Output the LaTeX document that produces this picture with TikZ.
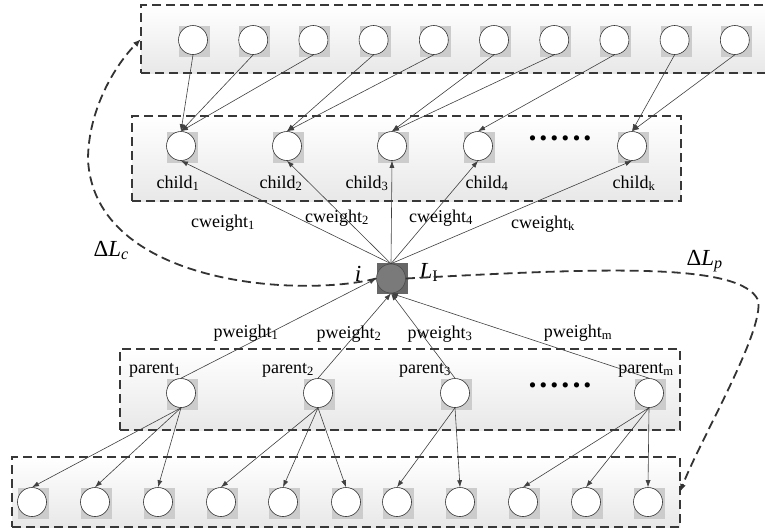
\documentclass[tikz,border=0pt]{standalone}
\usepackage{fontspec}
\setmainfont{Liberation Serif}
\usetikzlibrary{arrows.meta}

\tikzset{
  cell/.style={circle, draw=black!80, fill=white, minimum size=29pt, inner sep=0pt, line width=0.6pt},
  cellbg/.style={fill=gray!40, minimum size=31pt, inner sep=0pt},
  layer/.style={draw=black!78, line width=1.6pt, dash pattern=on 9pt off 5pt,
                top color=white, bottom color=gray!18, inner sep=0pt, outer sep=0pt},
  link/.style={draw=black!75, line width=0.6pt, -{Latex[length=7pt,width=5pt]}},
  jump/.style={draw=black!80, line width=1.8pt, dash pattern=on 9pt off 5pt, -{Latex[length=8pt,width=6pt]}},
  wlabel/.style={anchor=base, font=\fontsize{18}{20}\selectfont},
  big/.style={font=\fontsize{23}{26}\selectfont\itshape},
  dots/.style={font=\bfseries\fontsize{32}{32}\selectfont},
}
% a unit: gray square behind a white circle
\newcommand\cellat[3]{\node[cellbg] at (#2+1.5,#3+1.5) {};
  \node[cell] (#1) at (#2,#3) {};}

\begin{document}
\begin{tikzpicture}[x=1pt, y=-1pt]
  \useasboundingbox (0,0) rectangle (765,531);
  \clip (0,0) rectangle (765,531);

  % layers
  \node[layer, minimum width=634pt, minimum height=68pt] (toplayer) at (458,39) {};
  \node[layer, minimum width=549pt, minimum height=85pt] (childlayer) at (406.5,158.5) {};
  \node[layer, minimum width=560pt, minimum height=81pt] (parentlayer) at (400,389.5) {};
  \node[layer, minimum width=668pt, minimum height=70pt] (bottomlayer) at (346,492) {};

  % top row
  \foreach \n [evaluate=\n as \x using {193+60.2*(\n-1)}] in {1,...,10}
    {\cellat{t\n}{\x}{40}}

  % children
  \foreach \n/\x in {1/181,2/287,3/392,4/478,k/632}
    {\cellat{c\n}{\x}{146}}
  \foreach \n/\x in {1/178,2/281,3/367,4/487,k/634}
    \node[wlabel] at (\x,188) {child\textsubscript{\n}};
  \node[dots] at (560,138) {.\kern3pt.\kern3pt.\kern3pt.\kern3pt.\kern3pt.};

  % node i
  \node[fill=black!60, minimum size=31pt, inner sep=0pt] at (392.5,278) {};
  \node[cell, fill=black!52, draw=black!70] (i) at (391,278.5) {};
  \node[big, anchor=base] at (358,281) {i};
  \node[big, anchor=base west] at (416,278) {L\textsubscript{\upshape I}};

  % parents
  \foreach \n/\x in {1/181,2/318,3/455,m/649}
    {\cellat{p\n}{\x}{393}}
  \foreach \n/\x in {1/155,2/288,3/425,m/646}
    \node[wlabel] at (\x,373) {parent\textsubscript{\n}};
  \node[dots] at (560,385) {.\kern3pt.\kern3pt.\kern3pt.\kern3pt.\kern3pt.};

  % bottom row
  \foreach \n/\x in {1/32,2/95,3/158,4/221,5/283,6/346,7/397,8/460,9/523,10/586,11/648}
    {\cellat{b\n}{\x}{502}}

  % links
  \foreach \t/\c in {1/1,2/1,3/1,4/2,5/2,6/3,7/3,8/4,9/k,10/k}
    \draw[link] (t\t.south) -- (c\c.north);
  \foreach \c in {1,2,3,4,k}
    \draw[link] (i.north) -- (c\c.south);
  \draw[link] (p1.north) -- (i.west);
  \foreach \p in {2,3,m}
    \draw[link] (p\p.north) -- (i.south);
  \foreach \p/\b in {1/1,1/2,1/3,2/4,2/5,2/6,3/7,3/8,m/9,m/10,m/11}
    \draw[link] (p\p.south) -- (b\b.north);

  % weights
  \foreach \n/\x/\y in {1/223/227,2/337/222,4/441/222,k/543/228}
    \node[wlabel] at (\x,\y) {cweight\textsubscript{\n}};
  \foreach \n/\x/\y in {1/246/337,2/349/338,3/440/338,m/578/337}
    \node[wlabel] at (\x,\y) {pweight\textsubscript{\n}};

  % updates
  \draw[jump] (i.west) .. controls (300,298) and (95,285) .. (88,160)
    .. controls (88,110) and (115,65) .. (toplayer.west);
  \draw[jump] (i.east) .. controls (600,268) and (740,262) .. (758,300)
    .. controls (765,330) and (700,440) .. (bottomlayer.east);
  \node[big, anchor=base west] at (90,256) {{\upshape Δ}L\textsubscript{c}};
  \node[big, anchor=base west] at (683,265) {{\upshape Δ}L\textsubscript{p}};
\end{tikzpicture}
\end{document}
